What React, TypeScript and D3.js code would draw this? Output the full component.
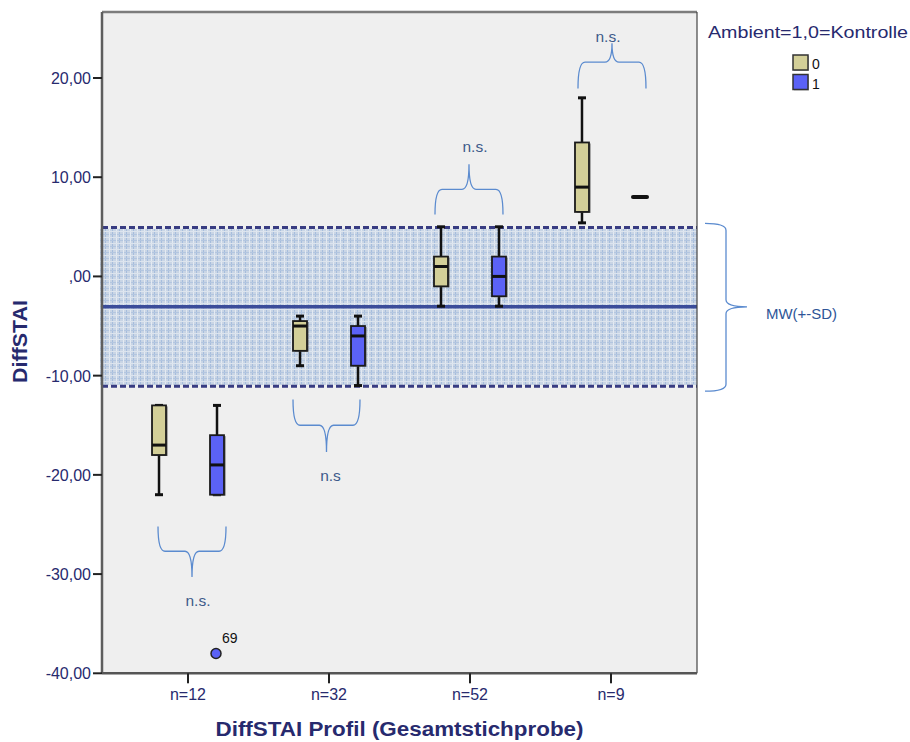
import React from "react";
import * as d3 from "d3";

const categories = ["n=12", "n=32", "n=52", "n=9"];
const groups = ["0", "1"];
const groupColors = ["#d3cf98", "#5b62f6"];

// group 0 (Kontrolle)
const min0 = [-22, -9, -3, 5.4];
const q1_0 = [-18, -7.5, -1, 6.5];
const med0 = [-17, -5, 1, 9];
const q3_0 = [-13, -4.5, 2, 13.5];
const max0 = [-13, -4, 5, 18];
// group 1 (Ambient)
const min1 = [-22, -11, -3, 8];
const q1_1 = [-22, -9, -2, 8];
const med1 = [-19, -6, 0, 8];
const q3_1 = [-16, -5, 2, 8];
const max1 = [-13, -4, 5, 8];

const outlierCats = ["n=12"];
const outlierGroups = [1];
const outlierValues = [-38];
const outlierLabels = ["69"];

const yTicks = [20, 10, 0, -10, -20, -30, -40];
const meanValue = -3.06;
const sdValue = 8.0;

// brace annotations (value units)
const braceTips = [-25.2, -12.4, 6.25, 18.95];
const braceMids = [-27.7, -15.0, 8.77, 21.6];
const bracePoints = [-30.3, -17.7, 11.3, 23.5];
const braceLabels = ["n.s.", "n.s", "n.s.", "n.s."];

const W = 910;
const H = 742;
const L = 102, R = 697, T = 12, B = 673.3;
const FONT = "'Liberation Sans', Arial, sans-serif";

function fmt(v: number) {
  if (v === 0) return ",00";
  return v.toFixed(2).replace(".", ",");
}

function hBrace(x1: number, x2: number, yb: number, ym: number, yt: number) {
  const xc = (x1 + x2) / 2;
  const r = 7;
  return `M${x1},${yb} Q${x1},${ym} ${x1 + r},${ym} L${xc - r},${ym} Q${xc},${ym} ${xc},${yt} Q${xc},${ym} ${xc + r},${ym} L${x2 - r},${ym} Q${x2},${ym} ${x2},${yb}`;
}

function vBrace(y1: number, y2: number, xb: number, xm: number, xt: number, yc: number) {
  const r = 7;
  return `M${xb},${y1} Q${xm},${y1} ${xm},${y1 + r} L${xm},${yc - r} Q${xm},${yc} ${xt},${yc} Q${xm},${yc} ${xm},${yc + r} L${xm},${y2 - r} Q${xm},${y2} ${xb},${y2}`;
}

export default function App() {
  const y = d3.scaleLinear().domain([-40, 26.65]).range([B, T]);
  const x = d3.scalePoint<string>().domain(categories).range([L, R]).padding(0.61);
  const gx = d3.scalePoint<string>().domain(groups).range([-29, 29]);
  const bw = 14;

  const stats = [
    { min: min0, q1: q1_0, med: med0, q3: q3_0, max: max0 },
    { min: min1, q1: q1_1, med: med1, q3: q3_1, max: max1 },
  ];

  const navy = "#272a6e";
  const braceEnds: [number, number][] = [[-30, 38], [-36, 31], [-35, 33], [-33, 35]];
  const labelDy = [29, 29, -12, -1];
  const labelDx = [6, 4, 6, -4];

  return (
    <svg width={W} height={H} style={{ position: "absolute", left: 0, top: 0, background: "#fff" }} fontFamily={FONT}>
      <defs>
        <pattern id="grid" width="7" height="6" patternUnits="userSpaceOnUse">
          <rect width="7" height="6" fill="#c9d5e5" />
          <rect x="0" y="0" width="1" height="6" fill="#a6bddd" />
          <rect x="0" y="0" width="7" height="1" fill="#b3c6e0" />
          <rect x="4" y="0" width="1" height="6" fill="#e4eaf2" />
          <rect x="0" y="3" width="7" height="1" fill="#dce4ee" />
        </pattern>
      </defs>
      {/* plot background */}
      <rect x={L} y={T} width={R - L} height={B - T} fill="#efefef" />

      {/* mean +- sd band */}
      <rect x={L - 2} y={y(meanValue + sdValue) + 1.5} width={R - L + 2} height={y(meanValue - sdValue) - y(meanValue + sdValue) - 3} fill="url(#grid)" />
      <line x1={L} x2={R} y1={y(meanValue + sdValue)} y2={y(meanValue + sdValue)} stroke="#383c82" strokeWidth={3} strokeDasharray="6,3" />
      <line x1={L} x2={R} y1={y(meanValue - sdValue)} y2={y(meanValue - sdValue)} stroke="#383c82" strokeWidth={3} strokeDasharray="6,3" />
      <line x1={L} x2={R} y1={y(meanValue)} y2={y(meanValue)} stroke="#3a4c9a" strokeWidth={3.5} />

      {/* boxes */}
      {categories.map((c, ci) =>
        groups.map((g, gi) => {
          const s = stats[gi];
          const cx = (x(c) as number) + (gx(g) as number);
          const lo = s.min[ci], q1 = s.q1[ci], md = s.med[ci], q3 = s.q3[ci], hi = s.max[ci];
          if (lo === hi) {
            return (
              <line key={c + g} x1={cx - 7} x2={cx + 7} y1={y(md)} y2={y(md)} stroke="#111" strokeWidth={4} strokeLinecap="round" />
            );
          }
          return (
            <g key={c + g}>
              <line x1={cx} x2={cx} y1={y(hi)} y2={y(lo)} stroke="#111" strokeWidth={2.5} />
              <line x1={cx - 4} x2={cx + 4} y1={y(hi)} y2={y(hi)} stroke="#111" strokeWidth={3} />
              <line x1={cx - 4} x2={cx + 4} y1={y(lo)} y2={y(lo)} stroke="#111" strokeWidth={3} />
              <rect x={cx - bw / 2 + 2} y={y(q3) + 1} width={bw} height={y(q1) - y(q3)} fill="#6e6e6e" opacity={0.55} />
              <rect x={cx - bw / 2} y={y(q3)} width={bw} height={y(q1) - y(q3)} fill={groupColors[gi]} stroke="#1a1a1a" strokeWidth={1.8} />
              <line x1={cx - bw / 2} x2={cx + bw / 2} y1={y(md)} y2={y(md)} stroke="#111" strokeWidth={3} />
            </g>
          );
        })
      )}

      {/* outliers */}
      {outlierValues.map((v, i) => {
        const cx = (x(outlierCats[i]) as number) + (gx(groups[outlierGroups[i]]) as number) - 1;
        return (
          <g key={"o" + i}>
            <circle cx={cx} cy={y(v)} r={5} fill={groupColors[outlierGroups[i]]} stroke="#222" strokeWidth={1.5} />
            <text x={cx + 6} y={y(v) - 10} fontSize={14} fill="#111">{outlierLabels[i]}</text>
          </g>
        );
      })}

      {/* braces */}
      {categories.map((c, ci) => {
        const x1 = (x(c) as number) + braceEnds[ci][0];
        const x2 = (x(c) as number) + braceEnds[ci][1];
        const xc = (x1 + x2) / 2;
        return (
          <g key={"b" + c}>
            <path d={hBrace(x1, x2, y(braceTips[ci]), y(braceMids[ci]), y(bracePoints[ci]))} fill="none" stroke="#5b8bcf" strokeWidth={1.3} />
            <text x={xc + labelDx[ci]} y={y(bracePoints[ci]) + labelDy[ci]} fontSize={15.5} fill="#3d5a8a" textAnchor="middle">{braceLabels[ci]}</text>
          </g>
        );
      })}

      {/* MW brace */}
      <path d={vBrace(y(meanValue + sdValue) - 4, y(meanValue - sdValue) + 5, R + 8, R + 29, R + 50, y(meanValue))} fill="none" stroke="#5b8bcf" strokeWidth={1.3} />
      <text x={766} y={y(meanValue) + 12} fontSize={14.5} fill="#2e5597" textLength={71} lengthAdjust="spacingAndGlyphs">MW(+-SD)</text>

      {/* frame */}
      <line x1={L} x2={R} y1={T} y2={T} stroke="#7c7c7c" strokeWidth={2.5} />
      <line x1={R} x2={R} y1={T} y2={B} stroke="#444" strokeWidth={1.2} />
      <line x1={L} x2={L} y1={T} y2={B} stroke="#5e5e5e" strokeWidth={2.5} />
      <line x1={L} x2={R} y1={B} y2={B} stroke="#555" strokeWidth={2.5} />

      {/* y axis */}
      {yTicks.map((t) => (
        <g key={"y" + t}>
          <line x1={L - 9} x2={L} y1={y(t)} y2={y(t)} stroke="#222" strokeWidth={2} />
          <text x={L - 11} y={y(t) + 6} fontSize={16} fill={navy} textAnchor="end">{fmt(t)}</text>
        </g>
      ))}
      {/* x axis */}
      {categories.map((c) => (
        <g key={"x" + c}>
          <line x1={x(c) as number} x2={x(c) as number} y1={B} y2={B + 10} stroke="#222" strokeWidth={2} />
          <text x={x(c) as number} y={700} fontSize={16} fill={navy} textAnchor="middle">{c}</text>
        </g>
      ))}

      <text transform={`translate(27,341.5) rotate(-90)`} fontSize={20} fontWeight="bold" fill={navy} textAnchor="middle" textLength={83} lengthAdjust="spacingAndGlyphs">DiffSTAI</text>
      <text x={(L + R) / 2} y={736} fontSize={19.5} fontWeight="bold" fill={navy} textAnchor="middle" textLength={368} lengthAdjust="spacingAndGlyphs">DiffSTAI Profil (Gesamtstichprobe)</text>

      {/* legend */}
      <text x={708} y={38} fontSize={17} fill={navy} textLength={200} lengthAdjust="spacingAndGlyphs">Ambient=1,0=Kontrolle</text>
      {groups.map((g, gi) => (
        <g key={"l" + g}>
          <rect x={794} y={56 + gi * 19.5} width={15} height={15} fill="#888" opacity={0.5} />
          <rect x={793} y={55 + gi * 19.5} width={15} height={15} fill={groupColors[gi]} stroke="#333" strokeWidth={1.5} />
          <text x={812} y={69 + gi * 19.5} fontSize={14} fill="#111">{g}</text>
        </g>
      ))}
    </svg>
  );
}
